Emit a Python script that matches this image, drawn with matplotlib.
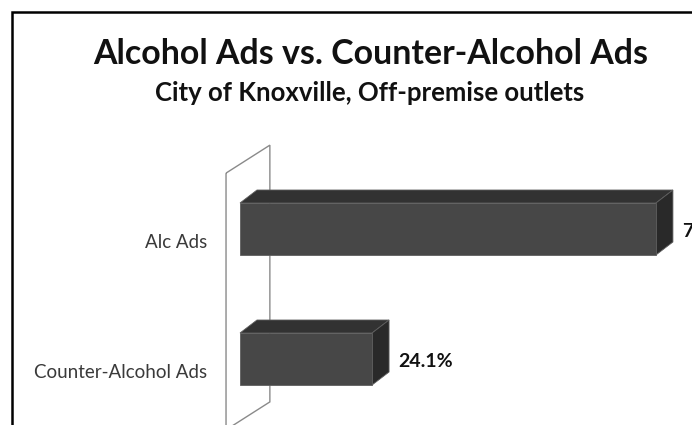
import matplotlib
matplotlib.use("Agg")
import matplotlib.pyplot as plt
from matplotlib.patches import Polygon, Rectangle

categories = ["Counter-Alcohol Ads", "Alc Ads"]
values = [24.1, 75.9]
value_labels = ["24.1%", "75.9%"]

title = "Alcohol Ads vs. Counter-Alcohol Ads"
subtitle = "City of Knoxville, Off-premise outlets"

FRONT = "#474747"
TOP = "#323232"
SIDE = "#292929"
EDGE = "#5e5e5e"

BAR_H = 0.4
DEPTH_X = 3.1   # depth of the 3D bars in data units
DEPTH_Y = 0.1

plt.rcParams["font.family"] = ["Lato", "DejaVu Sans"]

W, H = 692, 425
fig = plt.figure(figsize=(W / 100, H / 100), dpi=100)

# axes: x 0 -> px 240, 100 -> px 788 ; y -0.5 -> px 424, 1.5 -> px 164
ax = fig.add_axes([240 / W, 1 / H, 548 / W, 260 / H])
ax.set_xlim(0, 100)
ax.set_ylim(-0.5, 1.5)
ax.axis("off")

# back wall
wall = Polygon([(-2.55, 1.43), (5.45, 1.645), (5.45, -0.33), (-2.55, -0.545)],
               closed=True, facecolor="none", edgecolor="#8a8a8a",
               linewidth=1.0, clip_on=False, zorder=1)
ax.add_patch(wall)

for i, (cat, v, lab) in enumerate(zip(categories, values, value_labels)):
    y0 = i - BAR_H / 2
    y1 = i + BAR_H / 2
    top = Polygon([(0, y1), (v, y1), (v + DEPTH_X, y1 + DEPTH_Y), (DEPTH_X, y1 + DEPTH_Y)],
                  closed=True, facecolor=TOP, edgecolor=EDGE, linewidth=0.6,
                  clip_on=False, zorder=2)
    side = Polygon([(v, y0), (v + DEPTH_X, y0 + DEPTH_Y), (v + DEPTH_X, y1 + DEPTH_Y), (v, y1)],
                   closed=True, facecolor=SIDE, edgecolor=EDGE, linewidth=0.6,
                   clip_on=False, zorder=2)
    ax.add_patch(top)
    ax.add_patch(side)
    ax.barh(i, v, height=BAR_H, color=FRONT, edgecolor=EDGE, linewidth=0.6,
            zorder=3, clip_on=False)

    ax.text(-6.0, i - 0.1, cat, ha="right", va="center", fontsize=13.5,
            color="#3a3a3a", clip_on=False)
    ax.annotate(lab, xy=(v + DEPTH_X, i), xytext=(6.5, -2), textcoords="offset points",
                ha="left", va="center", fontsize=14, fontweight="bold",
                color="#111111", annotation_clip=False)

# chart frame (cropped at right and bottom)
fig.add_artist(Rectangle((12 / W, -0.2), 1.2, (H - 12) / H + 0.2,
                         transform=fig.transFigure, fill=False,
                         edgecolor="black", linewidth=1.8))

fig.text(371 / W, 1 - 54 / H, title, ha="center", va="center",
         fontsize=24.4, fontweight="bold", color="#111111")
fig.text(370 / W, 1 - 93 / H, subtitle, ha="center", va="center",
         fontsize=18.5, fontweight="bold", color="#111111")

fig.savefig("out.png", dpi=100)
